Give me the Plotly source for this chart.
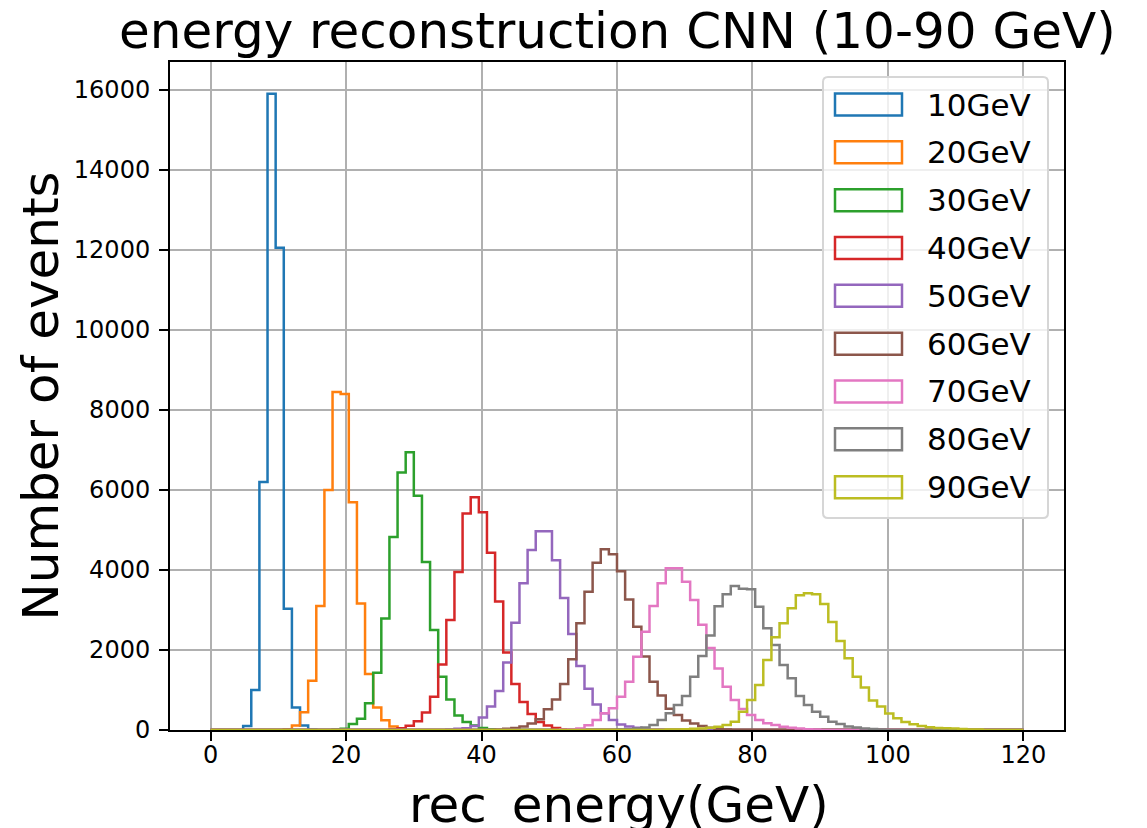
import numpy as np
import plotly.graph_objects as go

# Histogram binning: 100 bins over 0-120 GeV
BIN_LO, BIN_HI, N_BINS = 0.0, 120.0, 100

labels = ["10GeV", "20GeV", "30GeV", "40GeV", "50GeV", "60GeV", "70GeV", "80GeV", "90GeV"]
colors = ["#1f77b4", "#ff7f0e", "#2ca02c", "#d62728", "#9467bd",
          "#8c564b", "#e377c2", "#7f7f7f", "#bcbd22"]

# Per-sample counts: index of the first non-empty bin, then the bin contents
start_10 = 4
counts_10 = [100, 1000, 6200, 15900, 12050, 3030, 565, 110, 15]

start_20 = 9
counts_20 = [20, 110, 442, 1230, 3100, 6000, 8450, 8400, 5690, 3160, 1400, 560, 245, 90, 25]

start_30 = 15
counts_30 = [10, 30, 150, 280, 668, 1430, 2784, 4826, 6437, 6943, 5856, 4196, 2502,
             1330, 760, 360, 200, 110, 50, 20]

start_40 = 22
counts_40 = [20, 45, 105, 220, 440, 834, 1640, 2751, 3947, 5408, 5814, 5441, 4428,
             3210, 1940, 1150, 700, 400, 200, 110, 50, 20]

start_50 = 29
counts_50 = [15, 30, 45, 100, 310, 585, 975, 1690, 2680, 3670, 4500, 4970, 4970, 4240,
             3300, 2400, 1600, 1030, 640, 417, 250, 140, 90, 55, 25]

start_60 = 35
counts_60 = [15, 30, 50, 90, 160, 270, 520, 760, 1150, 1770, 2667, 3458, 4183, 4517,
             4392, 3970, 3260, 2583, 1840, 1208, 860, 530, 375, 240, 160, 100, 55, 30, 15]

start_70 = 43
counts_70 = [10, 20, 40, 120, 250, 417, 542, 833, 1208, 1833, 2458, 3100, 3667, 4042,
             4042, 3708, 3250, 2630, 2050, 1540, 1083, 750, 525, 375, 250, 167, 125,
             83, 55, 35, 20, 10]

start_80 = 50
counts_80 = [10, 20, 35, 60, 125, 250, 417, 625, 850, 1333, 1850, 2360, 3090, 3392,
             3600, 3530, 3517, 3083, 2542, 2125, 1625, 1292, 850, 625, 458, 333, 208,
             150, 90, 65, 40, 25, 15]

start_90 = 56
counts_90 = [10, 15, 20, 30, 40, 55, 80, 125, 208, 458, 750, 1125, 1750, 2317, 2667,
             3042, 3370, 3417, 3392, 3150, 2700, 2225, 1792, 1333, 1060, 740, 590, 410,
             292, 200, 142, 100, 67, 50, 45, 40, 25, 15, 10]

series = [
    (start_10, counts_10), (start_20, counts_20), (start_30, counts_30),
    (start_40, counts_40), (start_50, counts_50), (start_60, counts_60),
    (start_70, counts_70), (start_80, counts_80), (start_90, counts_90),
]

edges = np.linspace(BIN_LO, BIN_HI, N_BINS + 1)

# Figure geometry (pixels)
W, H = 1147, 828
L, R, T, B = 170, 1064, 62, 730
PW, PH = R - L, B - T


def px(xp):
    return (xp - L) / PW


def py(yp):
    return (B - yp) / PH


fig = go.Figure()

ymax = 0
for (start, vals), name, col in zip(series, labels, colors):
    full = np.zeros(N_BINS)
    full[start:start + len(vals)] = vals
    ymax = max(ymax, full.max())
    yy = np.append(full, full[-1])
    fig.add_trace(go.Scatter(
        x=edges, y=yy, mode="lines", name=name,
        line=dict(color=col, width=2.5, shape="hv"),
        showlegend=False, hoverinfo="skip",
    ))

FONT = "DejaVu Sans"
axis_common = dict(
    showline=True, linecolor="black", linewidth=2, mirror=True,
    ticks="outside", ticklen=9, tickwidth=2, tickcolor="black",
    showgrid=True, gridcolor="#b0b0b0", gridwidth=2, zeroline=False,
    tickfont=dict(family=FONT, size=24, color="black"),
)

fig.update_layout(
    width=W, height=H,
    margin=dict(l=L, r=W - R, t=T, b=H - B, pad=0),
    paper_bgcolor="white", plot_bgcolor="white",
    font=dict(family=FONT, color="black"),
    xaxis=dict(range=[-6, 126], tickvals=[0, 20, 40, 60, 80, 100, 120],
               ticklabelstandoff=-7, **axis_common),
    yaxis=dict(range=[0, ymax * 1.05], tickvals=list(range(0, 16001, 2000)),
               tickformat="d", ticklabelstandoff=4, **axis_common),
)

# Titles
fig.add_annotation(text="energy reconstruction CNN (10-90 GeV)", xref="paper", yref="paper",
                   x=0.5, y=py(30.7), xanchor="center", yanchor="middle", showarrow=False,
                   font=dict(family=FONT, size=50, color="black"))
fig.add_annotation(text="rec_energy(GeV)", xref="paper", yref="paper",
                   x=px(619), y=py(805), xanchor="center", yanchor="middle", showarrow=False,
                   font=dict(family=FONT, size=50, color="black"))
fig.add_annotation(text="Number of events", xref="paper", yref="paper",
                   x=px(40.7), y=0.5, xanchor="center", yanchor="middle", showarrow=False,
                   textangle=-90, font=dict(family=FONT, size=50, color="black"))

# Legend frame (rounded rectangle)
lx0, lx1, ly0, ly1, rad = 823, 1048, 77, 518, 5


def rounded_rect(x0, y0, x1, y1, r):
    a, b, c, d = px(x0), px(x1), py(y1), py(y0)
    rx, ry = r / PW, r / PH
    return (f"M {a + rx},{c} L {b - rx},{c} Q {b},{c} {b},{c + ry} "
            f"L {b},{d - ry} Q {b},{d} {b - rx},{d} L {a + rx},{d} "
            f"Q {a},{d} {a},{d - ry} L {a},{c + ry} Q {a},{c} {a + rx},{c} Z")


fig.add_shape(type="path", xref="paper", yref="paper",
              path=rounded_rect(lx0, ly0, lx1, ly1, rad),
              fillcolor="rgba(255,255,255,0.8)", line=dict(color="#d6d6d6", width=2),
              layer="above")

entry_y0, entry_dy = 104.5, 47.83
for i, (name, col) in enumerate(zip(labels, colors)):
    cy = entry_y0 + i * entry_dy
    fig.add_shape(type="rect", xref="paper", yref="paper",
                  x0=px(835), x1=px(902), y0=py(cy + 11), y1=py(cy - 11),
                  line=dict(color=col, width=2.5), fillcolor="rgba(0,0,0,0)", layer="above")
    fig.add_annotation(text=name, xref="paper", yref="paper", x=px(925), y=py(cy),
                       xanchor="left", yanchor="middle", showarrow=False,
                       font=dict(family=FONT, size=31, color="black"))

fig.write_html("out.html")
